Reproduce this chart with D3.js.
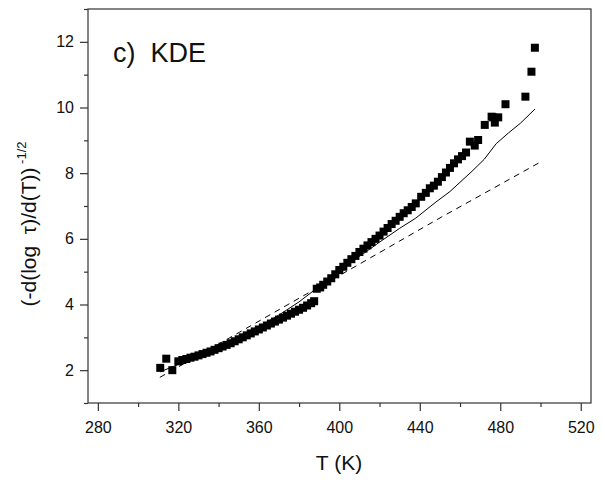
<!DOCTYPE html>
<html>
<head>
<meta charset="utf-8">
<script src="https://cdn.jsdelivr.net/npm/d3@7"></script>
<style>
body{margin:0;background:#fff;}
svg{display:block;}
text{font-family:Arial,"Liberation Sans",Helvetica,sans-serif;fill:#111;}
</style>
</head>
<body>
<svg id="chart" width="603" height="481"></svg>
<script>
// Data
const markerT = [311,314,317,320,322,324,326,328,330,332,334,336,338,340,342,344,346,348,350,352,354,356,358,360,362,364,366,368,370,372,374,376,378,380,382,384,386,387.5,
  388.8,390.5,392,394,396,398,400,402,404,406,408,410,412,414,416,418,420,422,424,426,428,430,432,434,436,438,440.7,443,445,447,449,451,453,455,457,459,461,463,464.9,467.3,469,472.3,475.7,476.5,477.3,479,482.6,492.5,495.5,497.2];
const markerV = [2.07,2.35,2.0,2.27,2.31,2.34,2.38,2.41,2.45,2.49,2.53,2.57,2.62,2.67,2.72,2.77,2.82,2.88,2.94,3.0,3.06,3.12,3.18,3.24,3.3,3.36,3.42,3.48,3.54,3.6,3.66,3.72,3.78,3.84,3.9,3.97,4.04,4.1,
  4.48,4.52,4.6,4.7,4.8,4.92,5.05,5.15,5.27,5.38,5.48,5.6,5.7,5.8,5.9,6.0,6.1,6.22,6.33,6.45,6.55,6.67,6.78,6.87,6.97,7.08,7.28,7.4,7.54,7.62,7.74,7.88,8.02,8.16,8.3,8.42,8.52,8.63,8.96,8.84,9.01,9.47,9.72,9.7,9.54,9.7,10.1,10.33,11.09,11.82];

const solidT = [311,325,340,350,360,370,380,390,400,405,412,420,430,438,448,455,466,472,478,484,490,497.2];
const solidV = [1.95,2.3,2.72,3.0,3.32,3.68,4.08,4.55,5.0,5.26,5.55,5.9,6.32,6.63,7.12,7.44,8.06,8.42,8.9,9.22,9.52,9.95];

const dashT = [310.8,350.5,383.7,400,450.7,499.7];
const dashV = [1.78,3.16,4.32,4.88,6.66,8.33];

const xTicks = [280,320,360,400,440,480,520];
const xMinor = [300,340,380,420,460,500];
const yTicks = [2,4,6,8,10,12];
const yMinor = [1,3,5,7,9,11,13];

const svg = d3.select("#chart");
const L = 88, R = 591, T = 9, B = 403;
const x = d3.scaleLinear().domain([275.1, 525.1]).range([L, R]);
const y = d3.scaleLinear().domain([1, 13]).range([B, T]);

// frame
svg.append("rect").attr("x", L).attr("y", T).attr("width", R - L).attr("height", B - T)
  .attr("fill", "none").attr("stroke", "#333").attr("stroke-width", 1.2);

// x axis
const gx = svg.append("g").attr("transform", `translate(0,${B})`);
gx.call(d3.axisBottom(x).tickValues(xTicks).tickSize(8).tickSizeOuter(0).tickPadding(11).tickFormat(d3.format("d")));
gx.append("g").call(d3.axisBottom(x).tickValues(xMinor).tickSize(4).tickSizeOuter(0).tickFormat(""));
gx.selectAll(".domain").remove();
gx.selectAll("line").attr("stroke", "#333").attr("stroke-width", 1.2);
gx.selectAll("text").attr("font-size", 16).attr("fill", "#111").attr("font-family", "Arial, Liberation Sans, sans-serif");

// y axis
const gy = svg.append("g").attr("transform", `translate(${L},0)`);
gy.call(d3.axisLeft(y).tickValues(yTicks).tickSize(8).tickSizeOuter(0).tickPadding(6).tickFormat(d3.format("d")));
gy.append("g").call(d3.axisLeft(y).tickValues(yMinor).tickSize(4).tickSizeOuter(0).tickFormat(""));
gy.selectAll(".domain").remove();
gy.selectAll("line").attr("stroke", "#333").attr("stroke-width", 1.2);
gy.selectAll("text").attr("font-size", 16).attr("fill", "#111").attr("font-family", "Arial, Liberation Sans, sans-serif");

// lines
const line = d3.line().x(d => x(d[0])).y(d => y(d[1]));
svg.append("path").datum(solidT.map((t, i) => [t, solidV[i]]))
  .attr("d", line).attr("fill", "none").attr("stroke", "#000").attr("stroke-width", 1);
svg.append("path").datum(dashT.map((t, i) => [t, dashV[i]]))
  .attr("d", line).attr("fill", "none").attr("stroke", "#000").attr("stroke-width", 1)
  .attr("stroke-dasharray", "6,5");

// markers
const s = 8;
svg.append("g").selectAll("rect").data(markerT.map((t, i) => [t, markerV[i]])).join("rect")
  .attr("x", d => x(d[0]) - s / 2).attr("y", d => y(d[1]) - s / 2)
  .attr("width", s).attr("height", s).attr("fill", "#000");

// annotation
svg.append("text").attr("x", 113).attr("y", 62).attr("font-size", 27)
  .style("white-space", "pre").text("c)  KDE");

// axis titles
svg.append("text").attr("x", 339).attr("y", 470).attr("text-anchor", "middle")
  .attr("font-size", 21).text("T (K)");

const yl = svg.append("text").attr("transform", "translate(36,224) rotate(-90)")
  .attr("text-anchor", "middle").attr("font-size", 21).style("white-space", "pre");
yl.append("tspan").text("(-d(log  τ)/d(T))");
yl.append("tspan").attr("font-size", 13).attr("dy", -10).text(" -1/2");
</script>
</body>
</html>
